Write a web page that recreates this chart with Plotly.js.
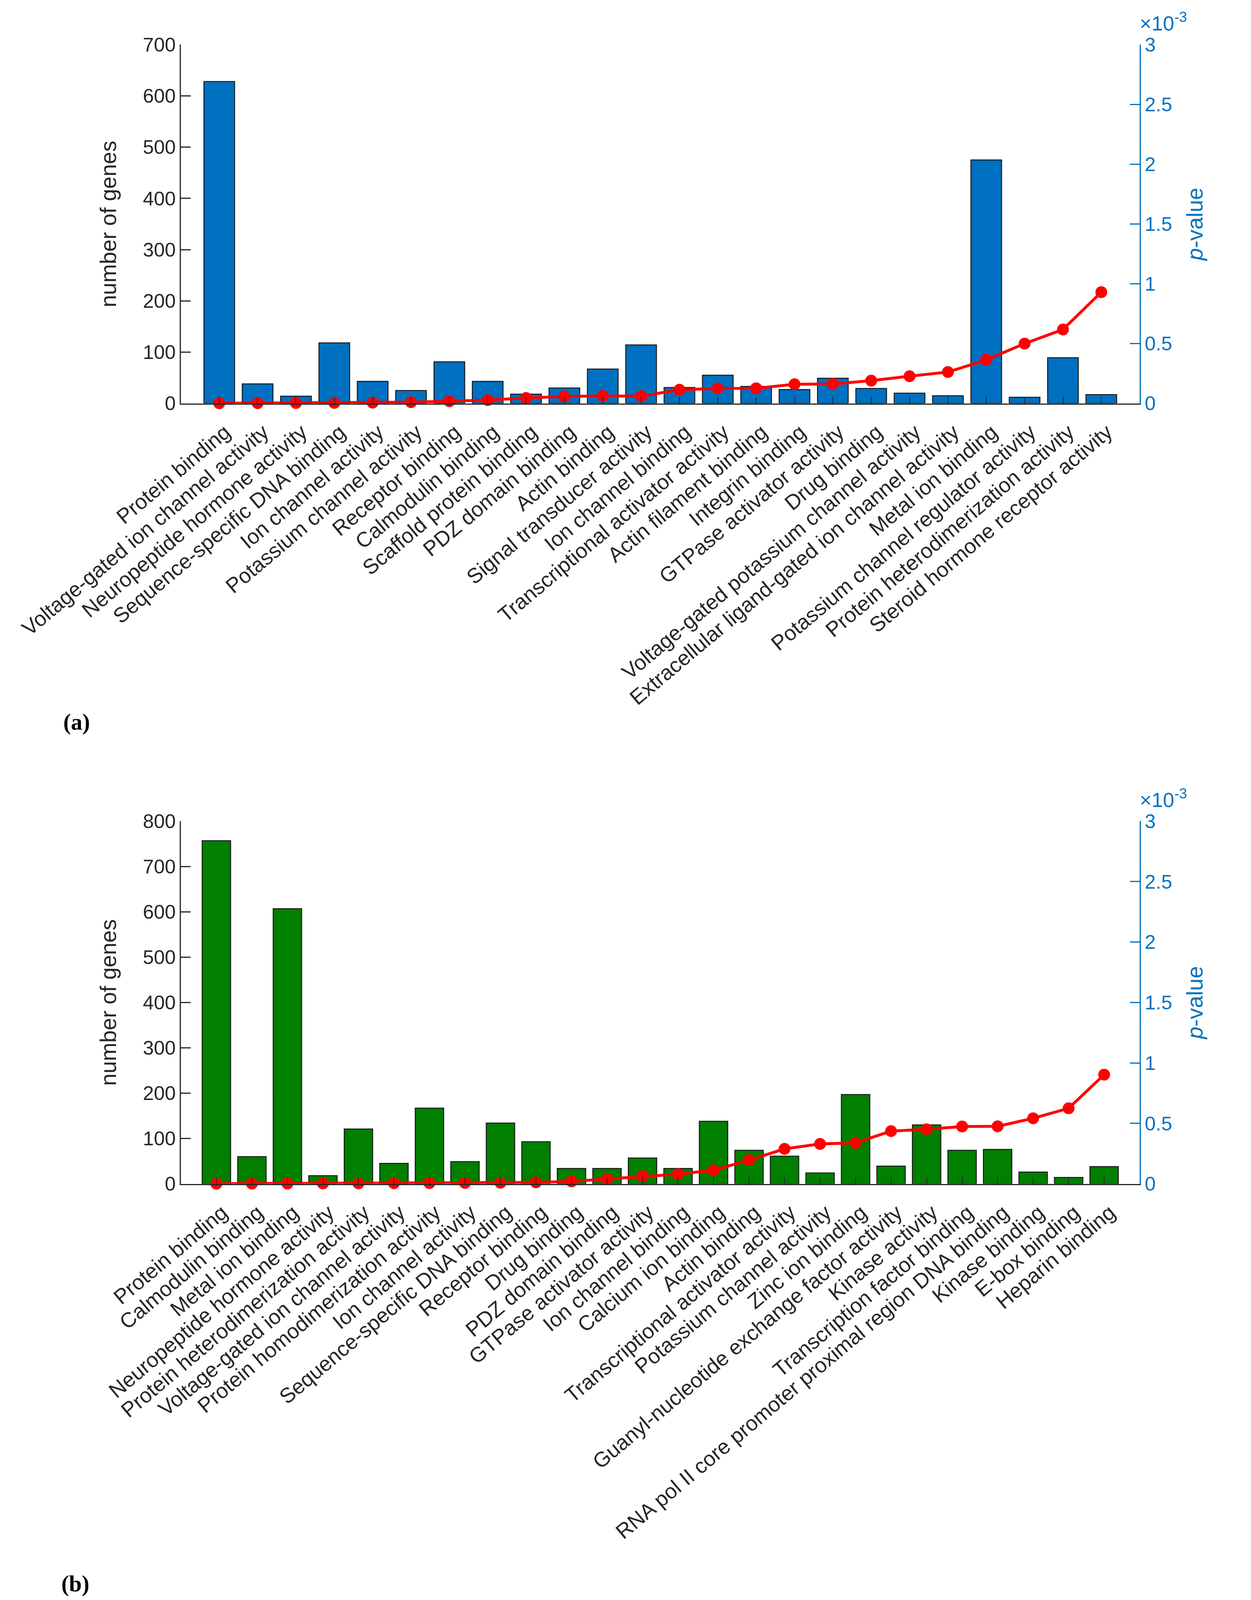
<!DOCTYPE html>
<html>
<head>
<meta charset="utf-8">
<script src="https://cdn.plot.ly/plotly-3.0.1.min.js"></script>
<style>
  body { margin: 0; background: #fff; overflow: hidden; }
</style>
</head>
<body>
<div id="graph"></div>
<script>
// (a) molecular function terms
const termsA = [
  "Protein binding",
  "Voltage-gated ion channel activity",
  "Neuropeptide hormone activity",
  "Sequence-specific DNA binding",
  "Ion channel activity",
  "Potassium channel activity",
  "Receptor binding",
  "Calmodulin binding",
  "Scaffold protein binding",
  "PDZ domain binding",
  "Actin binding",
  "Signal transducer activity",
  "Ion channel binding",
  "Transcriptional activator activity",
  "Actin filament binding",
  "Integrin binding",
  "GTPase activator activity",
  "Drug binding",
  "Voltage-gated potassium channel activity",
  "Extracellular ligand-gated ion channel activity",
  "Metal ion binding",
  "Potassium channel regulator activity",
  "Protein heterodimerization activity",
  "Steroid hormone receptor activity"
];
const genesA = [628, 38, 14, 118, 43, 25, 81, 43, 18, 30, 67, 114,
                31, 55, 33, 27, 49, 29, 20, 15, 475, 12, 89, 17];
const pvalA = [0.000001, 0.000002, 0.000003, 0.000004, 0.000006, 0.000010,
               0.000018, 0.000028, 0.000045, 0.000058, 0.000062, 0.000060,
               0.000114, 0.000125, 0.000126, 0.000160, 0.000162, 0.000190,
               0.000227, 0.000262, 0.000364, 0.000500, 0.000618, 0.000930];

// (b) molecular function terms
const termsB = [
  "Protein binding",
  "Calmodulin binding",
  "Metal ion binding",
  "Neuropeptide hormone activity",
  "Protein heterodimerization activity",
  "Voltage-gated ion channel activity",
  "Protein homodimerization activity",
  "Ion channel activity",
  "Sequence-specific DNA binding",
  "Receptor binding",
  "Drug binding",
  "PDZ domain binding",
  "GTPase activator activity",
  "Ion channel binding",
  "Calcium ion binding",
  "Actin binding",
  "Transcriptional activator activity",
  "Potassium channel activity",
  "Zinc ion binding",
  "Guanyl-nucleotide exchange factor activity",
  "Kinase activity",
  "Transcription factor binding",
  "RNA pol II core promoter proximal region DNA binding",
  "Kinase binding",
  "E-box binding",
  "Heparin binding"
];
const genesB = [757, 60, 607, 18, 121, 45, 167, 49, 134, 93, 34, 34, 57,
                34, 138, 74, 61, 24, 197, 39, 130, 74, 76, 26, 14, 38];
const pvalB = [0.000001, 0.000002, 0.000002, 0.000003, 0.000004, 0.000005,
               0.000006, 0.000007, 0.000009, 0.000012, 0.000020, 0.000040,
               0.000063, 0.000080, 0.000113, 0.000196, 0.000289, 0.000330,
               0.000339, 0.000436, 0.000451, 0.000474, 0.000476, 0.000542,
               0.000625, 0.000903];

const pTicks = [0, 0.0005, 0.001, 0.0015, 0.002, 0.0025, 0.003];
const pTickText = ["0", "0.5", "1", "1.5", "2", "2.5", "3"];

// positions are measured on a 3202x4871 figure; the window may be shorter,
// so the figure is squeezed vertically to fit it
const W = 3202, REF_H = 4871;
const H = Math.min(REF_H, window.innerHeight || REF_H);
const k = H / REF_H;
const fs = Math.sqrt(k);               // font scale
const labelAngle = -Math.atan(k) * 180 / Math.PI;

const dark = "#262626";
const pBlue = "#0072BD";
const py = px => 1 - px / REF_H;
const xDomain = [463 / W, 2917 / W];

function barTrace(x, y, color, xa, ya) {
  return {
    type: "bar", x: x, y: y, xaxis: xa, yaxis: ya,
    marker: { color: color, line: { color: "#1a1a1a", width: 2.5 } }
  };
}

function pTrace(x, y, xa, ya) {
  return {
    type: "scatter", mode: "lines+markers", x: x, y: y, xaxis: xa, yaxis: ya,
    line: { color: "#ff0000", width: 8 * fs },
    marker: { color: "#ff0000", size: 33 * fs },
    cliponaxis: false
  };
}

const data = [
  barTrace(termsA, genesA, "#0070C0", "x", "y"),
  pTrace(termsA, pvalA, "x", "y2"),
  barTrace(termsB, genesB, "#007F00", "x2", "y3"),
  pTrace(termsB, pvalB, "x2", "y4")
];

function catAxis(anchor, n) {
  return {
    domain: xDomain, anchor: anchor, type: "category",
    range: [-1, n], showline: true, linecolor: dark, linewidth: 3,
    ticks: "inside", ticklen: 20 * k, tickwidth: 2, tickcolor: dark,
    tickangle: labelAngle, tickfont: { size: 54, color: dark },
    ticklabelshift: 15, ticklabelstandoff: 18,
    showgrid: false, zeroline: false, fixedrange: true
  };
}

function countAxis(anchor, domain, top) {
  return {
    domain: domain, anchor: anchor, range: [0, top], dtick: 100,
    showline: true, linecolor: dark, linewidth: 3,
    ticks: "inside", ticklen: 25, tickwidth: 3, tickcolor: dark,
    tickfont: { size: 55 * fs, color: dark },
    showgrid: false, zeroline: false,
    title: { text: "number of genes", font: { size: 62 * fs, color: dark }, standoff: 50 }
  };
}

function pAxis(anchor, over) {
  return {
    anchor: anchor, overlaying: over, side: "right", range: [0, 0.003],
    tickvals: pTicks, ticktext: pTickText,
    showline: true, linecolor: pBlue, linewidth: 3,
    ticks: "inside", ticklen: 25, tickwidth: 3, tickcolor: pBlue,
    tickfont: { size: 55 * fs, color: pBlue },
    showgrid: false, zeroline: false,
    title: { text: "<i>p</i>-value", font: { size: 62 * fs, color: pBlue }, standoff: 40 }
  };
}

function exponentNote(yPx) {
  return {
    text: "×10<sup>-3</sup>", xref: "paper", yref: "paper",
    x: 2915 / W, y: py(yPx), xanchor: "left", yanchor: "bottom",
    showarrow: false, font: { size: 57 * fs, color: pBlue }
  };
}

function panelLetter(text, xPx, yPx) {
  return {
    text: "<b>" + text + "</b>", xref: "paper", yref: "paper",
    x: xPx / W, y: py(yPx), xanchor: "left", yanchor: "middle",
    showarrow: false,
    font: { size: 64 * fs, color: "#000", family: "Liberation Serif, serif" }
  };
}

const layout = {
  width: W, height: H,
  margin: { l: 0, r: 0, t: 0, b: 0 },
  paper_bgcolor: "#fff", plot_bgcolor: "#fff",
  font: { family: "Liberation Sans, Arial, sans-serif", color: dark },
  showlegend: false,
  bargap: 0.2,
  xaxis: catAxis("y", termsA.length),
  yaxis: countAxis("x", [py(1228), py(136)], 700),
  yaxis2: pAxis("x", "y"),
  xaxis2: catAxis("y3", termsB.length),
  yaxis3: countAxis("x2", [py(3604), py(2500)], 800),
  yaxis4: pAxis("x2", "y3"),
  annotations: [
    exponentNote(108),
    exponentNote(2472),
    panelLetter("(a)", 160, 2198),
    panelLetter("(b)", 155, 4822)
  ]
};

Plotly.newPlot("graph", data, layout, { staticPlot: true });
</script>
</body>
</html>
